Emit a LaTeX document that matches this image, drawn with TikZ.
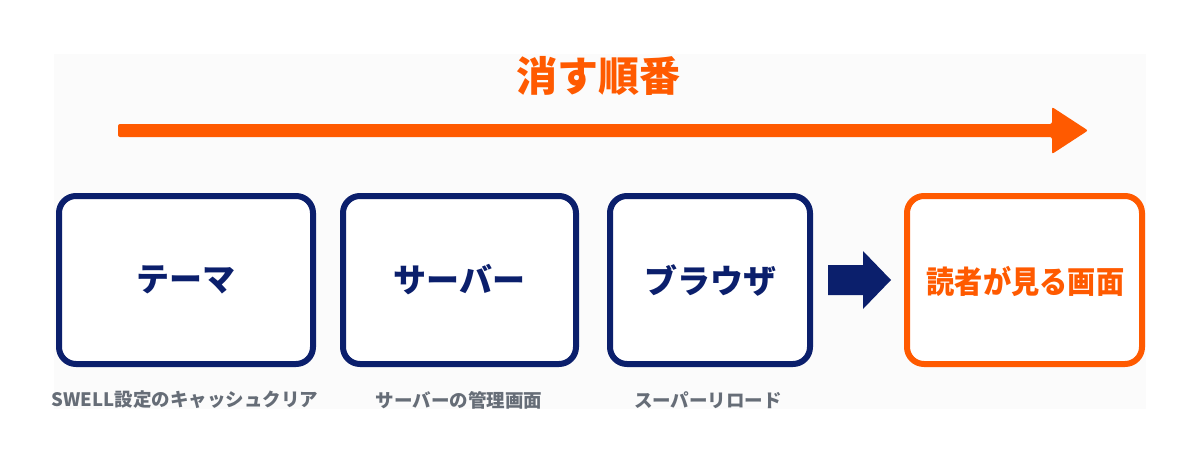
\documentclass[tikz,border=0pt]{standalone}
\usepackage{fontspec}
\setmainfont{Noto Sans CJK JP}
\definecolor{navy}{HTML}{0B1F6C}
\definecolor{orng}{HTML}{FF5A00}
\definecolor{lbl}{HTML}{666D77}
\definecolor{panel}{HTML}{FBFBFB}
\tikzset{
  stepbox/.style={draw=navy, line width=6pt, rounded corners=17pt, fill=white},
  goalbox/.style={draw=orng, line width=6pt, rounded corners=17pt, fill=white},
  boxtext/.style={font=\fontsize{33}{36}\selectfont\bfseries, text=navy},
  goaltext/.style={font=\fontsize{31}{34}\selectfont\bfseries, text=orng},
  subtext/.style={font=\fontsize{18.5}{20}\selectfont\bfseries, text=lbl},
}
\begin{document}
\begin{tikzpicture}[x=1pt,y=-1pt]
\useasboundingbox (0,0) rectangle (1200,464);
\fill[panel] (54,54) rectangle (1146,409);
% title
\node[font=\fontsize{41}{44}\selectfont\bfseries, text=orng] (title) at (598,76) {消す順番};
% big orange arrow
\fill[orng, rounded corners=2pt] (118,124) -- (1052,124) -- (1052,107) -- (1088,130.5) -- (1052,154) -- (1052,137) -- (118,137) -- cycle;
% boxes
\draw[stepbox] (59,196) rectangle (313,364);
\node[boxtext] (b1) at (186,280) {テーマ};
\draw[stepbox] (343,196) rectangle (576,364);
\node[boxtext] (b2) at (459.5,280) {サーバー};
\draw[stepbox] (610,196) rectangle (810,364);
\node[boxtext] (b3) at (710,280) {ブラウザ};
\draw[goalbox] (907,196) rectangle (1142,364);
\node[goaltext, inner sep=0pt] (b4) at (1025.5,281) {\scalebox{0.91}[1]{読者が見る画面}};
% dark arrow
\fill[navy] (828,265) -- (863,265) -- (863,251) -- (891,280) -- (863,309) -- (863,295) -- (828,295) -- cycle;
% sub labels
\node[subtext] (s1) at (185,400) {SWELL設定のキャッシュクリア};
\node[subtext] (s2) at (459,400) {サーバーの管理画面};
\node[subtext] (s3) at (708,400) {スーパーリロード};
\end{tikzpicture}
\end{document}
